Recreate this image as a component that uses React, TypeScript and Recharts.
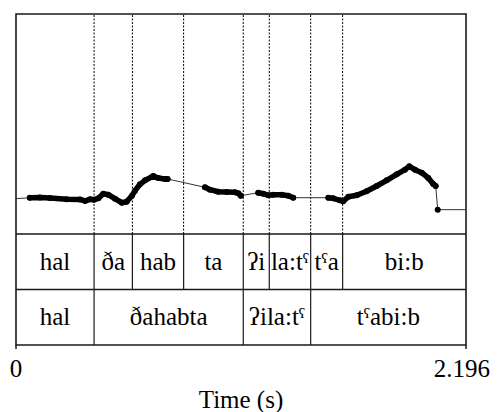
import { ComposedChart, Line, XAxis, YAxis, ReferenceLine, ReferenceArea } from "recharts";

const SERIF = "'Liberation Serif', 'Times New Roman', 'DejaVu Serif', serif";

// Pitch track (s, Hz); RUN groups consecutive voiced frames
const PITCH_T = [
  0.067, 0.117, 0.166, 0.247, 0.312, 0.337, 0.361, 0.381, 0.402, 0.426, 0.45, 0.483, 0.516, 0.54, 0.565, 0.581, 0.605, 0.63, 0.67, 0.694, 0.727, 0.74,
  0.922, 0.947, 0.987, 1.028, 1.069, 1.085, 1.097,
  1.182, 1.207, 1.231, 1.256, 1.297, 1.329, 1.353,
  1.524, 1.548, 1.581, 1.597, 1.622, 1.663, 1.711, 1.76, 1.809, 1.858, 1.898, 1.919, 1.947, 1.98, 2.012, 2.036, 2.048,
  2.058,
];
const PITCH_HZ = [
  145, 145.5, 144.6, 142, 141.7, 138.8, 142, 141.3, 144, 152.9, 150.9, 143.2, 135.5, 137.4, 148.4, 158.7, 171, 178.7, 187.1, 183.2, 181.3, 181.3,
  165.2, 160.6, 156.7, 156.1, 155.6, 153.6, 149,
  154.8, 152.9, 149.8, 150.9, 150.9, 149, 145.1,
  145.1, 144, 140.1, 138.2, 147.1, 149.8, 157.5, 167.7, 178.7, 190.3, 199.2, 205.8, 199.2, 193.4, 183.2, 171.6, 167.7,
  122,
];
const RUN = [
  1, 1, 1, 1, 1, 1, 1, 1, 1, 1, 1, 1, 1, 1, 1, 1, 1, 1, 1, 1, 1, 1,
  2, 2, 2, 2, 2, 2, 2,
  3, 3, 3, 3, 3, 3, 3,
  4, 4, 4, 4, 4, 4, 4, 4, 4, 4, 4, 4, 4, 4, 4, 4, 4,
  5,
];
// interpolated ends of the track
const EDGE_T = [0, 2.196];
const EDGE_HZ = [143.2, 122];

const TIER1_LABELS = ["hal", "ða", "hab", "ta", "ʔi", "la:tˤ", "tˤa", "bi:b"];
const TIER1_EDGES = [0, 0.381, 0.568, 0.818, 1.109, 1.236, 1.438, 1.594, 2.196];
const TIER2_LABELS = ["hal", "ðahabta", "ʔila:tˤ", "tˤabi:b"];
const TIER2_EDGES = [0, 0.381, 1.109, 1.438, 2.196];

const X_TICKS = [0, 2.196];
const T_MAX = 2.196;

const INK = "#1a1a1a";

// centred interval label; recharts hands over the area's viewBox
function TierText(props: any) {
  const vb = props.viewBox || { x: 0, y: 0, width: 0, height: 0 };
  return (
    <text
      x={vb.x + vb.width / 2}
      y={vb.y + vb.height / 2 + 8}
      textAnchor="middle"
      fontSize={25}
      fontFamily={SERIF}
      fill="#000"
    >
      {props.text}
    </text>
  );
}

export default function App() {
  const voiced = PITCH_T.map((t, i) => ({ t, hz: PITCH_HZ[i], run: RUN[i] }));
  const track = [
    { t: EDGE_T[0], hz: EDGE_HZ[0] },
    ...voiced,
    { t: EDGE_T[1], hz: EDGE_HZ[1] },
  ];
  const runs = Array.from(new Set(RUN)).map(r => voiced.filter(p => p.run === r));
  const inner = TIER1_EDGES.slice(1, -1);

  return (
    <div style={{ position: "relative", width: 482, height: 404, fontFamily: SERIF }}>
      {/* pitch panel */}
      <div style={{ position: "absolute", left: 0, top: 0 }}>
        <ComposedChart width={482} height={226} margin={{ top: 6, right: 24, bottom: 0, left: 8 }}>
          <XAxis dataKey="t" type="number" domain={[0, T_MAX]} hide allowDataOverflow />
          <YAxis type="number" domain={[75, 500]} hide allowDataOverflow />
          {inner.map(t => (
            <ReferenceLine key={t} x={t} stroke="#000" strokeWidth={1} strokeDasharray="2 1.5" />
          ))}
          <ReferenceArea x1={0} x2={T_MAX} y1={75} y2={500} fill="none" stroke={INK} strokeWidth={1.6} />
          <Line data={track} dataKey="hz" stroke="#333" strokeWidth={1} dot={false} isAnimationActive={false} />
          {runs.map((pts, i) => (
            <Line
              key={i}
              data={pts}
              dataKey="hz"
              stroke="#000"
              strokeWidth={5.5}
              strokeLinejoin="round"
              strokeLinecap="round"
              dot={{ r: 3, fill: "#000", stroke: "none" }}
              isAnimationActive={false}
            />
          ))}
        </ComposedChart>
      </div>

      {/* text grid + time axis */}
      <div style={{ position: "absolute", left: 0, top: 226 }}>
        <ComposedChart
          width={482}
          height={178}
          margin={{ top: 0, right: 24, bottom: 0, left: 8 }}
          data={X_TICKS.map((t, i) => ({ t, row: i * 2 }))}
        >
          <XAxis
            dataKey="t"
            type="number"
            domain={[0, T_MAX]}
            ticks={X_TICKS}
            tickFormatter={v => (v === 0 ? "0" : String(v))}
            height={67}
            axisLine={false}
            tickSize={4}
            tickMargin={10}
            tickLine={{ stroke: INK, strokeWidth: 1.5 }}
            tick={{ fontSize: 25, fill: "#000", fontFamily: SERIF }}
            label={{ value: "Time (s)", position: "insideBottom", offset: 4, fontSize: 25, fill: "#000", fontFamily: SERIF }}
          />
          <YAxis type="number" domain={[0, 2]} hide />
          <Line dataKey="row" stroke="none" dot={false} isAnimationActive={false} />
          {TIER1_LABELS.map((lab, i) => (
            <ReferenceArea key={"a" + i} x1={TIER1_EDGES[i]} x2={TIER1_EDGES[i + 1]} y1={1} y2={2} fill="none" stroke="none" label={<TierText text={lab} />} />
          ))}
          {TIER2_LABELS.map((lab, i) => (
            <ReferenceArea key={"b" + i} x1={TIER2_EDGES[i]} x2={TIER2_EDGES[i + 1]} y1={0} y2={1} fill="none" stroke="none" label={<TierText text={lab} />} />
          ))}
          {inner.map(t => (
            <ReferenceLine key={"s" + t} segment={[{ x: t, y: 1 }, { x: t, y: 2 }]} stroke={INK} strokeWidth={1.2} />
          ))}
          {TIER2_EDGES.slice(1, -1).map(t => (
            <ReferenceLine key={"u" + t} segment={[{ x: t, y: 0 }, { x: t, y: 1 }]} stroke={INK} strokeWidth={1.2} />
          ))}
          <ReferenceLine y={1} stroke={INK} strokeWidth={1.4} />
          <ReferenceArea x1={0} x2={T_MAX} y1={0} y2={2} fill="none" stroke={INK} strokeWidth={1.6} />
        </ComposedChart>
      </div>
    </div>
  );
}
